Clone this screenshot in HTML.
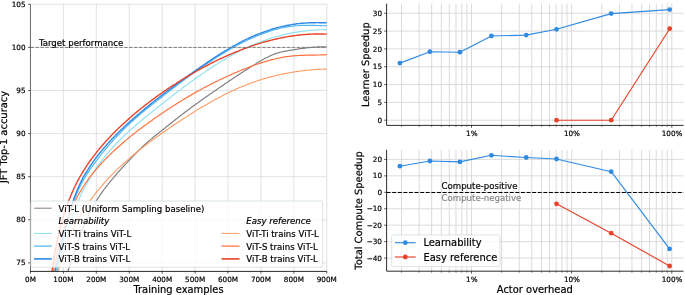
<!DOCTYPE html>
<html><head><meta charset="utf-8"><title>chart</title>
<style>html,body{margin:0;padding:0;background:#fff}text{stroke:#000;stroke-width:.2px}text.g{stroke:#8a8a8a}</style></head>
<body>
<div style="will-change:transform;width:685px;height:295px;overflow:hidden">
<svg width="685" height="295" viewBox="0 0 685 295" style="display:block" stroke-linejoin="round" font-family='"DejaVu Sans", "Liberation Sans", sans-serif'>
<rect width="685" height="295" fill="#fff"/>
<defs><clipPath id="cl"><rect x="30.5" y="2.3" width="296.90000000000003" height="268.9"/></clipPath></defs>
<path d="M30.50 4.3V271.2M63.42 4.3V271.2M96.34 4.3V271.2M129.26 4.3V271.2M162.18 4.3V271.2M195.10 4.3V271.2M228.02 4.3V271.2M260.94 4.3V271.2M293.86 4.3V271.2M326.78 4.3V271.2M30.5 262.90H326.8M30.5 219.80H326.8M30.5 176.70H326.8M30.5 133.60H326.8M30.5 90.50H326.8M30.5 47.40H326.8M30.5 4.30H326.8" stroke="#dadada" stroke-width="0.8" fill="none"/>
<g clip-path="url(#cl)" fill="none" stroke-linejoin="round">
<path d="M63.9 282.7L64.4 281.3L64.9 279.9L65.4 278.5L65.9 277.1L66.4 275.7L66.9 274.3L67.3 272.8L67.8 271.4L68.3 270.0L68.8 268.6L69.3 267.1L69.7 265.7L70.2 264.3L70.7 262.8L71.1 261.4L71.6 260.0L72.1 258.5L72.6 257.1L73.0 255.7L73.5 254.3L74.0 252.8L74.5 251.4L75.0 250.0L75.4 248.5L75.9 247.1L76.4 245.7L76.9 244.3L77.4 242.8L77.9 241.4L78.4 240.0L78.9 238.6L79.4 237.2L80.0 235.7L80.5 234.3L81.0 232.9L81.6 231.5L82.1 230.1L82.7 228.7L83.2 227.3L83.8 226.0L84.4 224.6L85.0 223.2L85.6 221.8L86.2 220.4L86.8 219.1L87.4 217.7L88.0 216.4L88.7 215.0L89.3 213.7L90.0 212.4L90.7 211.0L91.4 209.7L92.0 208.4L92.8 207.1L93.5 205.8L94.2 204.5L95.0 203.2L95.7 201.9L96.5 200.6L97.3 199.4L98.1 198.1L98.9 196.9L99.7 195.6L100.6 194.4L101.4 193.2L102.3 191.9L103.2 190.7L104.0 189.5L104.9 188.3L105.8 187.1L106.8 185.9L107.7 184.8L108.6 183.6L109.6 182.4L110.5 181.2L111.5 180.1L112.4 178.9L113.4 177.8L114.4 176.6L115.4 175.5L116.4 174.3L117.3 173.2L118.3 172.1L119.3 171.0L120.4 169.8L121.4 168.7L122.4 167.6L123.4 166.5L124.4 165.4L125.4 164.3L126.5 163.2L127.5 162.1L128.5 161.0L129.6 159.9L130.6 158.8L131.6 157.7L132.7 156.6L133.7 155.6L134.7 154.5L135.8 153.4L136.8 152.3L137.9 151.3L139.0 150.2L140.0 149.1L141.1 148.1L142.2 147.0L143.3 146.0L144.4 145.0L145.5 144.0L146.6 143.0L147.7 142.0L148.8 141.0L149.9 140.1L151.1 139.1L152.2 138.2L153.3 137.3L154.5 136.3L155.6 135.4L156.8 134.5L158.0 133.6L159.1 132.6L160.3 131.7L161.5 130.8L162.6 129.8L163.8 128.9L165.0 128.0L166.1 127.0L167.3 126.1L168.5 125.2L169.7 124.2L170.9 123.3L172.1 122.3L173.2 121.4L174.4 120.5L175.6 119.5L176.8 118.6L178.0 117.7L179.2 116.7L180.4 115.8L181.6 114.9L182.8 113.9L184.0 113.0L185.2 112.1L186.4 111.2L187.6 110.3L188.8 109.4L190.0 108.5L191.2 107.6L192.4 106.7L193.6 105.8L194.8 104.9L196.0 104.0L197.2 103.2L198.4 102.3L199.7 101.4L200.9 100.6L202.1 99.7L203.3 98.8L204.5 98.0L205.7 97.1L206.9 96.3L208.2 95.4L209.4 94.6L210.6 93.7L211.8 92.9L213.0 92.0L214.3 91.2L215.5 90.4L216.7 89.5L217.9 88.7L219.2 87.8L220.4 87.0L221.6 86.2L222.9 85.3L224.1 84.5L225.3 83.6L226.6 82.8L227.8 82.0L229.1 81.1L230.3 80.3L231.6 79.5L232.8 78.6L234.1 77.8L235.3 76.9L236.6 76.1L237.8 75.3L239.1 74.4L240.4 73.6L241.6 72.8L242.9 72.0L244.2 71.1L245.4 70.3L246.7 69.5L248.0 68.7L249.3 67.9L250.5 67.1L251.8 66.3L253.1 65.5L254.4 64.7L255.7 63.9L257.0 63.1L258.3 62.3L259.6 61.5L260.9 60.7L262.2 60.0L263.5 59.3L264.8 58.5L266.1 57.8L267.5 57.2L268.8 56.5L270.2 55.9L271.5 55.3L272.9 54.7L274.3 54.1L275.6 53.6L277.0 53.2L278.4 52.7L279.9 52.3L281.3 52.0L282.7 51.7L284.2 51.3L285.6 51.1L287.1 50.8L288.6 50.5L290.0 50.3L291.5 50.1L293.0 49.9L294.5 49.6L296.0 49.4L297.5 49.2L298.9 48.9L300.4 48.7L301.9 48.5L303.4 48.3L304.9 48.1L306.4 47.9L307.9 47.7L309.4 47.6L310.9 47.4L312.4 47.3L313.9 47.2L315.4 47.1L316.9 47.0L318.4 46.9L319.9 46.9L321.4 46.9L322.9 46.9L324.4 46.9L325.9 46.9L326.8 47.0" stroke="#808080" stroke-width="1.2"/>
<path d="M53.6 284.7L54.0 283.3L54.4 281.8L54.8 280.4L55.3 278.9L55.7 277.5L56.0 276.0L56.4 274.6L56.8 273.1L57.2 271.6L57.6 270.2L58.0 268.7L58.4 267.3L58.7 265.8L59.1 264.3L59.5 262.9L59.9 261.4L60.2 259.9L60.6 258.5L61.0 257.0L61.4 255.6L61.7 254.1L62.1 252.6L62.5 251.2L62.9 249.7L63.2 248.3L63.6 246.8L64.0 245.3L64.4 243.9L64.8 242.4L65.1 241.0L65.5 239.5L65.9 238.1L66.3 236.6L66.7 235.2L67.1 233.7L67.5 232.3L68.0 230.8L68.4 229.4L68.8 227.9L69.2 226.5L69.7 225.1L70.1 223.6L70.6 222.2L71.0 220.8L71.5 219.4L71.9 217.9L72.4 216.5L72.9 215.1L73.4 213.7L73.9 212.3L74.4 210.9L74.9 209.5L75.4 208.1L76.0 206.7L76.5 205.3L77.1 203.9L77.6 202.5L78.2 201.2L78.8 199.8L79.4 198.4L80.0 197.1L80.6 195.7L81.2 194.3L81.9 193.0L82.5 191.6L83.2 190.3L83.9 189.0L84.6 187.6L85.3 186.3L86.0 185.0L86.7 183.7L87.4 182.4L88.2 181.1L88.9 179.8L89.7 178.5L90.4 177.2L91.2 175.9L92.0 174.6L92.8 173.4L93.6 172.1L94.5 170.8L95.3 169.6L96.1 168.4L97.0 167.1L97.9 165.9L98.7 164.7L99.6 163.5L100.5 162.3L101.4 161.1L102.3 159.9L103.2 158.7L104.2 157.5L105.1 156.3L106.0 155.2L107.0 154.0L107.9 152.9L108.9 151.7L109.9 150.6L110.9 149.5L111.8 148.4L112.8 147.3L113.8 146.2L114.8 145.1L115.9 144.0L116.9 143.0L117.9 141.9L119.0 140.8L120.0 139.8L121.0 138.7L122.1 137.7L123.2 136.7L124.2 135.6L125.3 134.6L126.4 133.6L127.5 132.6L128.5 131.6L129.6 130.6L130.7 129.6L131.8 128.6L133.0 127.6L134.1 126.7L135.2 125.7L136.3 124.7L137.4 123.8L138.6 122.8L139.7 121.8L140.8 120.9L142.0 119.9L143.1 119.0L144.3 118.0L145.4 117.1L146.6 116.1L147.8 115.2L148.9 114.3L150.1 113.3L151.2 112.4L152.4 111.5L153.6 110.5L154.8 109.6L155.9 108.7L157.1 107.7L158.3 106.8L159.5 105.9L160.7 104.9L161.9 104.0L163.1 103.1L164.2 102.1L165.4 101.2L166.6 100.3L167.8 99.3L169.0 98.4L170.2 97.5L171.4 96.6L172.6 95.6L173.8 94.7L175.0 93.8L176.2 92.8L177.4 91.9L178.6 91.0L179.9 90.1L181.1 89.2L182.3 88.2L183.5 87.3L184.7 86.4L185.9 85.5L187.2 84.6L188.4 83.7L189.6 82.8L190.8 81.9L192.1 81.0L193.3 80.1L194.5 79.2L195.8 78.3L197.0 77.4L198.3 76.5L199.5 75.7L200.8 74.8L202.0 73.9L203.3 73.1L204.5 72.2L205.8 71.4L207.0 70.5L208.3 69.7L209.5 68.8L210.8 68.0L212.1 67.2L213.3 66.3L214.6 65.5L215.9 64.7L217.2 63.9L218.4 63.1L219.7 62.3L221.0 61.5L222.3 60.8L223.6 60.0L224.9 59.2L226.2 58.5L227.5 57.7L228.8 57.0L230.1 56.2L231.4 55.5L232.7 54.8L234.0 54.1L235.3 53.4L236.7 52.7L238.0 52.0L239.3 51.3L240.6 50.6L242.0 50.0L243.3 49.3L244.6 48.7L246.0 48.1L247.3 47.4L248.7 46.8L250.0 46.2L251.4 45.6L252.7 45.0L254.1 44.5L255.4 43.9L256.8 43.3L258.2 42.8L259.5 42.2L260.9 41.7L262.3 41.2L263.7 40.7L265.1 40.2L266.5 39.7L267.9 39.3L269.2 38.8L270.6 38.3L272.1 37.9L273.5 37.5L274.9 37.0L276.3 36.6L277.7 36.2L279.1 35.9L280.6 35.5L282.0 35.1L283.4 34.8L284.9 34.4L286.3 34.1L287.7 33.8L289.2 33.5L290.6 33.2L292.1 32.9L293.6 32.6L295.0 32.4L296.5 32.1L298.0 31.9L299.4 31.7L300.9 31.4L302.4 31.2L303.9 31.1L305.4 30.9L306.9 30.7L308.4 30.6L309.9 30.4L311.4 30.3L312.9 30.2L314.4 30.1L316.0 30.0L317.5 29.9L319.0 29.8L320.6 29.7L322.1 29.7L323.6 29.6L325.2 29.6L326.8 29.6L327.0 29.6" stroke="#8adfee" stroke-width="1.1"/>
<path d="M52.5 286.4L52.9 285.0L53.3 283.5L53.7 282.1L54.1 280.6L54.5 279.2L54.9 277.7L55.2 276.3L55.6 274.8L56.0 273.4L56.3 271.9L56.7 270.4L57.0 269.0L57.4 267.5L57.7 266.0L58.0 264.5L58.4 263.1L58.7 261.6L59.0 260.1L59.3 258.6L59.7 257.2L60.0 255.7L60.3 254.2L60.6 252.7L60.9 251.2L61.2 249.7L61.6 248.3L61.9 246.8L62.2 245.3L62.5 243.8L62.8 242.3L63.1 240.9L63.5 239.4L63.8 237.9L64.1 236.4L64.5 235.0L64.8 233.5L65.1 232.0L65.5 230.5L65.8 229.1L66.2 227.6L66.5 226.1L66.9 224.7L67.3 223.2L67.6 221.8L68.0 220.3L68.4 218.9L68.8 217.4L69.2 216.0L69.6 214.6L70.0 213.1L70.4 211.7L70.9 210.3L71.3 208.8L71.8 207.4L72.2 206.0L72.7 204.6L73.2 203.2L73.7 201.8L74.2 200.4L74.7 199.0L75.2 197.6L75.8 196.3L76.3 194.9L76.9 193.5L77.5 192.2L78.1 190.8L78.7 189.5L79.3 188.1L79.9 186.8L80.6 185.5L81.2 184.2L81.9 182.9L82.6 181.6L83.3 180.3L84.0 179.0L84.8 177.7L85.5 176.4L86.3 175.2L87.1 173.9L87.9 172.6L88.7 171.4L89.6 170.2L90.4 168.9L91.3 167.7L92.1 166.5L93.0 165.3L93.9 164.1L94.8 162.9L95.7 161.7L96.6 160.5L97.5 159.3L98.4 158.2L99.3 157.0L100.2 155.8L101.1 154.7L102.0 153.5L102.9 152.3L103.9 151.2L104.8 150.0L105.8 148.9L106.7 147.8L107.7 146.6L108.7 145.5L109.6 144.3L110.6 143.2L111.6 142.1L112.6 141.0L113.6 139.9L114.6 138.7L115.7 137.6L116.7 136.5L117.7 135.4L118.8 134.3L119.8 133.3L120.9 132.2L121.9 131.1L123.0 130.0L124.0 129.0L125.1 127.9L126.2 126.9L127.3 125.8L128.4 124.8L129.5 123.8L130.6 122.8L131.7 121.7L132.8 120.7L133.9 119.7L135.0 118.7L136.1 117.8L137.3 116.8L138.4 115.8L139.5 114.8L140.7 113.9L141.8 112.9L142.9 112.0L144.1 111.0L145.2 110.1L146.4 109.1L147.5 108.2L148.7 107.3L149.8 106.4L151.0 105.4L152.2 104.5L153.3 103.6L154.5 102.7L155.7 101.8L156.8 100.9L158.0 100.0L159.2 99.1L160.3 98.2L161.5 97.2L162.7 96.3L163.9 95.4L165.0 94.5L166.2 93.6L167.4 92.7L168.6 91.8L169.7 90.8L170.9 89.9L172.1 89.0L173.3 88.1L174.5 87.2L175.7 86.3L176.9 85.4L178.1 84.5L179.3 83.6L180.5 82.7L181.7 81.8L182.9 80.9L184.1 80.0L185.3 79.1L186.5 78.2L187.7 77.3L188.9 76.4L190.1 75.5L191.3 74.6L192.5 73.7L193.8 72.9L195.0 72.0L196.2 71.1L197.4 70.2L198.7 69.4L199.9 68.5L201.1 67.6L202.4 66.8L203.6 65.9L204.9 65.1L206.1 64.2L207.3 63.4L208.6 62.6L209.9 61.7L211.1 60.9L212.4 60.1L213.6 59.3L214.9 58.4L216.2 57.6L217.4 56.8L218.7 56.0L220.0 55.2L221.3 54.4L222.6 53.7L223.9 52.9L225.2 52.1L226.5 51.4L227.8 50.6L229.1 49.8L230.4 49.1L231.7 48.4L233.0 47.6L234.3 46.9L235.6 46.2L237.0 45.5L238.3 44.8L239.6 44.1L241.0 43.4L242.3 42.7L243.7 42.0L245.0 41.4L246.4 40.7L247.7 40.1L249.1 39.4L250.4 38.8L251.8 38.2L253.2 37.6L254.6 37.0L256.0 36.4L257.3 35.8L258.7 35.2L260.1 34.7L261.5 34.1L262.9 33.6L264.3 33.1L265.7 32.6L267.1 32.1L268.6 31.6L270.0 31.1L271.4 30.7L272.8 30.3L274.3 29.8L275.7 29.4L277.1 29.1L278.6 28.7L280.0 28.3L281.5 28.0L282.9 27.7L284.4 27.4L285.8 27.1L287.3 26.9L288.7 26.6L290.2 26.4L291.7 26.2L293.1 26.1L294.6 25.9L296.1 25.8L297.6 25.7L299.0 25.6L300.5 25.5L302.0 25.4L303.5 25.4L305.0 25.4L306.5 25.3L308.0 25.3L309.5 25.3L311.0 25.4L312.5 25.4L314.0 25.4L315.5 25.4L317.0 25.5L318.5 25.5L320.1 25.6L321.6 25.6L323.1 25.7L324.6 25.7L326.1 25.8L326.9 25.8" stroke="#4db8f0" stroke-width="1.15"/>
<path d="M51.0 287.7L51.4 286.2L51.7 284.8L52.1 283.3L52.5 281.9L52.8 280.4L53.2 279.0L53.5 277.5L53.9 276.1L54.2 274.6L54.6 273.1L54.9 271.7L55.3 270.2L55.6 268.8L56.0 267.3L56.3 265.8L56.6 264.3L57.0 262.9L57.3 261.4L57.6 259.9L58.0 258.5L58.3 257.0L58.6 255.5L59.0 254.0L59.3 252.6L59.6 251.1L60.0 249.6L60.3 248.1L60.6 246.7L61.0 245.2L61.3 243.7L61.7 242.2L62.0 240.8L62.3 239.3L62.7 237.8L63.0 236.4L63.4 234.9L63.7 233.4L64.1 232.0L64.5 230.5L64.8 229.0L65.2 227.6L65.6 226.1L66.0 224.7L66.4 223.2L66.7 221.8L67.1 220.3L67.5 218.9L67.9 217.4L68.3 216.0L68.8 214.6L69.2 213.1L69.6 211.7L70.0 210.3L70.5 208.9L70.9 207.4L71.4 206.0L71.8 204.6L72.3 203.2L72.8 201.8L73.3 200.4L73.8 199.0L74.3 197.6L74.8 196.2L75.3 194.9L75.8 193.5L76.4 192.1L76.9 190.8L77.5 189.4L78.1 188.0L78.7 186.7L79.3 185.4L79.9 184.0L80.5 182.7L81.2 181.4L81.8 180.1L82.5 178.7L83.2 177.4L84.0 176.1L84.7 174.8L85.4 173.6L86.2 172.3L87.0 171.0L87.8 169.8L88.6 168.5L89.4 167.3L90.2 166.0L91.1 164.8L91.9 163.6L92.8 162.3L93.6 161.1L94.5 159.9L95.4 158.7L96.3 157.5L97.2 156.3L98.1 155.2L99.0 154.0L100.0 152.8L100.9 151.7L101.8 150.5L102.8 149.4L103.8 148.2L104.7 147.1L105.7 146.0L106.7 144.8L107.7 143.7L108.7 142.6L109.7 141.5L110.7 140.4L111.7 139.3L112.8 138.2L113.8 137.2L114.9 136.1L115.9 135.0L117.0 133.9L118.0 132.9L119.1 131.8L120.2 130.8L121.2 129.7L122.3 128.7L123.4 127.7L124.5 126.6L125.6 125.6L126.7 124.6L127.8 123.6L128.9 122.6L130.0 121.6L131.1 120.6L132.3 119.6L133.4 118.6L134.5 117.6L135.7 116.6L136.8 115.6L137.9 114.6L139.1 113.7L140.2 112.7L141.4 111.7L142.5 110.8L143.7 109.8L144.8 108.9L146.0 107.9L147.1 107.0L148.3 106.0L149.4 105.1L150.6 104.1L151.7 103.2L152.9 102.3L154.1 101.3L155.2 100.4L156.4 99.5L157.6 98.6L158.8 97.7L159.9 96.8L161.1 95.8L162.3 94.9L163.5 94.0L164.6 93.1L165.8 92.2L167.0 91.3L168.2 90.4L169.4 89.5L170.6 88.6L171.8 87.7L173.0 86.9L174.2 86.0L175.4 85.1L176.6 84.2L177.8 83.3L179.0 82.4L180.2 81.5L181.4 80.7L182.6 79.8L183.8 78.9L185.0 78.0L186.3 77.2L187.5 76.3L188.7 75.4L189.9 74.5L191.2 73.7L192.4 72.8L193.6 71.9L194.9 71.0L196.1 70.2L197.3 69.3L198.6 68.4L199.8 67.6L201.1 66.7L202.3 65.8L203.6 65.0L204.8 64.1L206.1 63.3L207.3 62.4L208.6 61.5L209.9 60.7L211.1 59.8L212.4 59.0L213.7 58.2L215.0 57.3L216.2 56.5L217.5 55.7L218.8 54.8L220.1 54.0L221.4 53.2L222.7 52.4L224.0 51.6L225.3 50.8L226.6 50.0L227.9 49.3L229.2 48.5L230.5 47.7L231.8 47.0L233.1 46.2L234.4 45.5L235.7 44.8L237.1 44.0L238.4 43.3L239.7 42.6L241.1 41.9L242.4 41.2L243.7 40.6L245.1 39.9L246.4 39.2L247.8 38.6L249.1 38.0L250.5 37.4L251.8 36.7L253.2 36.1L254.6 35.6L255.9 35.0L257.3 34.4L258.7 33.9L260.1 33.3L261.4 32.8L262.8 32.3L264.2 31.8L265.6 31.3L267.0 30.8L268.4 30.3L269.8 29.9L271.2 29.4L272.6 29.0L274.0 28.6L275.4 28.2L276.9 27.8L278.3 27.4L279.7 27.1L281.1 26.7L282.6 26.4L284.0 26.1L285.5 25.8L286.9 25.5L288.4 25.2L289.8 24.9L291.3 24.7L292.7 24.4L294.2 24.2L295.7 24.0L297.1 23.8L298.6 23.6L300.1 23.5L301.6 23.3L303.1 23.2L304.6 23.1L306.0 23.0L307.5 22.9L309.0 22.8L310.6 22.8L312.1 22.7L313.6 22.7L315.1 22.7L316.6 22.6L318.2 22.6L319.7 22.7L321.2 22.7L322.8 22.7L324.3 22.8L325.9 22.9L326.9 22.9" stroke="#2f88e4" stroke-width="1.4"/>
<path d="M54.6 284.4L55.0 282.9L55.4 281.4L55.7 279.9L56.1 278.4L56.5 276.9L56.9 275.5L57.3 274.0L57.7 272.5L58.1 271.1L58.5 269.6L58.9 268.2L59.3 266.7L59.7 265.2L60.1 263.8L60.5 262.4L61.0 260.9L61.4 259.5L61.8 258.1L62.3 256.6L62.7 255.2L63.2 253.8L63.7 252.4L64.2 251.0L64.6 249.6L65.1 248.1L65.6 246.7L66.2 245.4L66.7 244.0L67.2 242.6L67.8 241.2L68.3 239.8L68.9 238.4L69.5 237.1L70.1 235.7L70.7 234.4L71.3 233.0L71.9 231.6L72.5 230.3L73.2 229.0L73.8 227.6L74.5 226.3L75.2 225.0L75.9 223.7L76.6 222.3L77.3 221.0L78.0 219.7L78.7 218.4L79.5 217.1L80.2 215.8L81.0 214.6L81.8 213.3L82.5 212.0L83.3 210.7L84.1 209.5L84.9 208.2L85.8 207.0L86.6 205.7L87.4 204.5L88.3 203.2L89.2 202.0L90.0 200.8L90.9 199.6L91.8 198.4L92.7 197.2L93.6 196.0L94.5 194.8L95.4 193.6L96.3 192.4L97.3 191.2L98.2 190.1L99.2 188.9L100.1 187.8L101.1 186.6L102.1 185.5L103.1 184.3L104.0 183.2L105.0 182.1L106.0 181.0L107.1 179.9L108.1 178.8L109.1 177.7L110.1 176.6L111.2 175.5L112.2 174.4L113.3 173.4L114.3 172.3L115.4 171.3L116.4 170.2L117.5 169.2L118.6 168.1L119.7 167.1L120.8 166.1L121.9 165.1L123.0 164.1L124.1 163.1L125.2 162.1L126.3 161.1L127.4 160.1L128.5 159.1L129.7 158.1L130.8 157.2L131.9 156.2L133.1 155.2L134.2 154.3L135.4 153.3L136.5 152.4L137.7 151.4L138.9 150.5L140.0 149.6L141.2 148.6L142.4 147.7L143.6 146.8L144.8 145.9L145.9 145.0L147.1 144.1L148.3 143.1L149.5 142.2L150.7 141.4L151.9 140.5L153.1 139.6L154.4 138.7L155.6 137.8L156.8 136.9L158.0 136.0L159.2 135.2L160.4 134.3L161.7 133.4L162.9 132.5L164.1 131.7L165.4 130.8L166.6 130.0L167.8 129.1L169.1 128.2L170.3 127.4L171.6 126.5L172.8 125.7L174.1 124.8L175.3 124.0L176.6 123.2L177.8 122.3L179.1 121.5L180.3 120.7L181.6 119.8L182.9 119.0L184.1 118.2L185.4 117.4L186.7 116.6L187.9 115.7L189.2 114.9L190.5 114.1L191.8 113.3L193.0 112.5L194.3 111.7L195.6 110.9L196.9 110.1L198.2 109.4L199.5 108.6L200.8 107.8L202.1 107.0L203.4 106.2L204.7 105.5L206.0 104.7L207.3 104.0L208.6 103.2L209.9 102.5L211.3 101.7L212.6 101.0L213.9 100.2L215.2 99.5L216.5 98.8L217.9 98.1L219.2 97.4L220.5 96.7L221.9 96.0L223.2 95.3L224.6 94.6L225.9 94.0L227.2 93.3L228.6 92.6L229.9 92.0L231.3 91.3L232.7 90.7L234.0 90.1L235.4 89.5L236.7 88.8L238.1 88.2L239.5 87.6L240.8 87.1L242.2 86.5L243.6 85.9L245.0 85.4L246.4 84.8L247.7 84.3L249.1 83.8L250.5 83.2L251.9 82.7L253.3 82.2L254.7 81.7L256.1 81.3L257.5 80.8L258.9 80.3L260.3 79.9L261.7 79.4L263.1 79.0L264.6 78.6L266.0 78.2L267.4 77.8L268.8 77.4L270.3 77.0L271.7 76.6L273.1 76.2L274.6 75.9L276.0 75.5L277.4 75.2L278.9 74.9L280.3 74.5L281.8 74.2L283.2 73.9L284.7 73.6L286.1 73.3L287.6 73.1L289.1 72.8L290.5 72.5L292.0 72.3L293.5 72.1L294.9 71.8L296.4 71.6L297.9 71.4L299.4 71.2L300.9 71.0L302.4 70.8L303.9 70.6L305.3 70.5L306.8 70.3L308.3 70.2L309.8 70.0L311.4 69.9L312.9 69.8L314.4 69.7L315.9 69.5L317.4 69.4L318.9 69.4L320.5 69.3L322.0 69.2L323.5 69.1L325.0 69.1L326.6 69.1L326.9 69.0" stroke="#ff9a62" stroke-width="1.1"/>
<path d="M49.6 291.3L49.9 289.9L50.2 288.4L50.5 286.9L50.7 285.5L51.0 284.0L51.3 282.5L51.6 281.0L51.9 279.6L52.2 278.1L52.4 276.6L52.7 275.1L53.0 273.7L53.3 272.2L53.6 270.7L53.9 269.2L54.2 267.8L54.5 266.3L54.8 264.8L55.1 263.3L55.4 261.9L55.8 260.4L56.1 258.9L56.4 257.4L56.7 256.0L57.1 254.5L57.4 253.0L57.8 251.6L58.1 250.1L58.5 248.6L58.8 247.2L59.2 245.7L59.6 244.3L60.0 242.8L60.4 241.4L60.7 239.9L61.1 238.5L61.6 237.0L62.0 235.6L62.4 234.1L62.8 232.7L63.3 231.3L63.7 229.9L64.2 228.4L64.6 227.0L65.1 225.6L65.6 224.2L66.1 222.8L66.6 221.4L67.1 220.0L67.6 218.6L68.1 217.2L68.7 215.8L69.2 214.4L69.8 213.0L70.3 211.6L70.9 210.3L71.5 208.9L72.1 207.5L72.7 206.2L73.3 204.8L74.0 203.5L74.6 202.1L75.3 200.8L75.9 199.5L76.6 198.2L77.3 196.8L78.0 195.5L78.7 194.2L79.5 192.9L80.2 191.6L81.0 190.3L81.8 189.1L82.5 187.8L83.3 186.5L84.2 185.3L85.0 184.0L85.8 182.8L86.7 181.5L87.5 180.3L88.4 179.1L89.3 177.9L90.2 176.7L91.2 175.5L92.1 174.3L93.0 173.1L94.0 171.9L95.0 170.8L95.9 169.6L96.9 168.5L97.9 167.3L98.9 166.2L99.9 165.1L100.9 164.0L101.9 162.9L103.0 161.8L104.0 160.7L105.0 159.6L106.1 158.5L107.1 157.5L108.2 156.4L109.2 155.4L110.3 154.3L111.4 153.3L112.5 152.2L113.5 151.2L114.6 150.2L115.7 149.2L116.8 148.2L117.9 147.2L119.0 146.2L120.2 145.2L121.3 144.2L122.4 143.3L123.5 142.3L124.7 141.3L125.8 140.4L127.0 139.4L128.1 138.5L129.3 137.5L130.4 136.6L131.6 135.6L132.7 134.7L133.9 133.8L135.1 132.9L136.3 131.9L137.4 131.0L138.6 130.1L139.8 129.2L141.0 128.3L142.2 127.4L143.4 126.5L144.6 125.6L145.8 124.7L147.0 123.9L148.2 123.0L149.4 122.1L150.6 121.2L151.9 120.4L153.1 119.5L154.3 118.6L155.5 117.8L156.7 116.9L158.0 116.1L159.2 115.2L160.4 114.4L161.7 113.5L162.9 112.7L164.2 111.8L165.4 111.0L166.7 110.2L167.9 109.3L169.2 108.5L170.4 107.7L171.7 106.9L172.9 106.1L174.2 105.3L175.5 104.5L176.7 103.7L178.0 102.9L179.3 102.1L180.6 101.3L181.9 100.5L183.1 99.7L184.4 98.9L185.7 98.2L187.0 97.4L188.3 96.6L189.6 95.9L190.9 95.1L192.2 94.4L193.5 93.6L194.8 92.9L196.1 92.1L197.4 91.4L198.7 90.7L200.1 90.0L201.4 89.2L202.7 88.5L204.0 87.8L205.3 87.1L206.7 86.4L208.0 85.7L209.3 85.0L210.7 84.3L212.0 83.6L213.4 83.0L214.7 82.3L216.1 81.6L217.4 81.0L218.8 80.3L220.1 79.6L221.5 79.0L222.8 78.4L224.2 77.7L225.6 77.1L226.9 76.5L228.3 75.8L229.7 75.2L231.0 74.6L232.4 74.0L233.8 73.4L235.2 72.8L236.6 72.2L237.9 71.6L239.3 71.0L240.7 70.5L242.1 69.9L243.5 69.3L244.9 68.8L246.3 68.2L247.7 67.7L249.1 67.1L250.5 66.6L251.9 66.1L253.4 65.5L254.8 65.0L256.2 64.5L257.6 64.0L259.0 63.6L260.4 63.1L261.9 62.6L263.3 62.2L264.7 61.7L266.2 61.3L267.6 60.9L269.0 60.5L270.5 60.1L271.9 59.7L273.4 59.3L274.8 59.0L276.3 58.6L277.7 58.3L279.2 58.0L280.6 57.7L282.1 57.4L283.5 57.2L285.0 56.9L286.5 56.7L287.9 56.5L289.4 56.3L290.9 56.1L292.4 55.9L293.8 55.8L295.3 55.7L296.8 55.6L298.3 55.5L299.8 55.4L301.2 55.4L302.7 55.3L304.2 55.3L305.7 55.2L307.2 55.2L308.7 55.2L310.2 55.2L311.7 55.1L313.2 55.1L314.7 55.1L316.2 55.1L317.8 55.0L319.3 55.0L320.8 54.9L322.3 54.9L323.8 54.8L325.3 54.7L326.9 54.6L326.9 54.6" stroke="#ff7340" stroke-width="1.2"/>
<path d="M48.3 297.3L48.5 295.8L48.7 294.3L48.9 292.8L49.2 291.3L49.4 289.9L49.6 288.4L49.8 286.9L50.0 285.4L50.2 283.9L50.4 282.4L50.6 280.9L50.8 279.4L51.0 277.9L51.3 276.4L51.5 274.9L51.7 273.5L51.9 272.0L52.1 270.5L52.3 269.0L52.6 267.5L52.8 266.0L53.0 264.5L53.3 263.0L53.5 261.5L53.7 260.0L54.0 258.5L54.2 257.0L54.5 255.5L54.7 254.0L55.0 252.5L55.3 251.1L55.5 249.6L55.8 248.1L56.1 246.6L56.4 245.1L56.7 243.6L57.0 242.1L57.3 240.7L57.6 239.2L57.9 237.7L58.2 236.2L58.5 234.8L58.9 233.3L59.2 231.8L59.6 230.4L59.9 228.9L60.3 227.4L60.7 226.0L61.0 224.5L61.4 223.1L61.8 221.6L62.2 220.2L62.7 218.8L63.1 217.3L63.5 215.9L64.0 214.5L64.4 213.0L64.9 211.6L65.3 210.2L65.8 208.8L66.3 207.4L66.8 205.9L67.3 204.5L67.8 203.1L68.3 201.8L68.9 200.4L69.4 199.0L70.0 197.6L70.5 196.2L71.1 194.9L71.7 193.5L72.3 192.1L72.9 190.8L73.5 189.4L74.1 188.1L74.8 186.7L75.4 185.4L76.1 184.1L76.7 182.8L77.4 181.4L78.1 180.1L78.8 178.8L79.5 177.5L80.3 176.2L81.0 175.0L81.8 173.7L82.5 172.4L83.3 171.1L84.1 169.9L84.9 168.6L85.7 167.4L86.5 166.1L87.3 164.9L88.1 163.7L89.0 162.4L89.8 161.2L90.7 160.0L91.6 158.8L92.5 157.6L93.4 156.4L94.3 155.2L95.2 154.1L96.1 152.9L97.0 151.7L97.9 150.6L98.9 149.4L99.8 148.3L100.8 147.1L101.8 146.0L102.8 144.8L103.7 143.7L104.7 142.6L105.7 141.5L106.7 140.4L107.7 139.3L108.8 138.2L109.8 137.1L110.8 136.0L111.9 134.9L112.9 133.8L114.0 132.8L115.0 131.7L116.1 130.6L117.2 129.6L118.2 128.5L119.3 127.5L120.4 126.5L121.5 125.4L122.6 124.4L123.7 123.4L124.8 122.4L125.9 121.4L127.0 120.4L128.1 119.4L129.3 118.4L130.4 117.4L131.5 116.4L132.7 115.4L133.8 114.5L134.9 113.5L136.1 112.5L137.2 111.6L138.4 110.6L139.6 109.7L140.7 108.7L141.9 107.8L143.1 106.9L144.2 105.9L145.4 105.0L146.6 104.1L147.8 103.2L149.0 102.3L150.2 101.4L151.4 100.5L152.6 99.6L153.8 98.7L155.0 97.8L156.2 96.9L157.4 96.1L158.6 95.2L159.8 94.3L161.0 93.5L162.3 92.6L163.5 91.7L164.7 90.9L166.0 90.1L167.2 89.2L168.5 88.4L169.7 87.5L171.0 86.7L172.2 85.9L173.5 85.1L174.7 84.3L176.0 83.5L177.3 82.6L178.5 81.8L179.8 81.0L181.1 80.2L182.4 79.5L183.7 78.7L184.9 77.9L186.2 77.1L187.5 76.3L188.8 75.6L190.1 74.8L191.4 74.0L192.7 73.3L194.0 72.5L195.3 71.8L196.7 71.0L198.0 70.3L199.3 69.6L200.6 68.9L201.9 68.1L203.3 67.4L204.6 66.7L205.9 66.0L207.3 65.3L208.6 64.6L210.0 63.9L211.3 63.2L212.7 62.5L214.0 61.9L215.4 61.2L216.7 60.5L218.1 59.9L219.4 59.2L220.8 58.6L222.2 58.0L223.5 57.3L224.9 56.7L226.3 56.1L227.7 55.5L229.0 54.9L230.4 54.3L231.8 53.7L233.2 53.1L234.6 52.5L236.0 51.9L237.4 51.3L238.8 50.8L240.2 50.2L241.6 49.7L243.0 49.1L244.4 48.6L245.8 48.1L247.2 47.6L248.6 47.1L250.0 46.6L251.4 46.1L252.9 45.6L254.3 45.1L255.7 44.6L257.1 44.2L258.6 43.7L260.0 43.3L261.4 42.9L262.9 42.4L264.3 42.0L265.7 41.6L267.2 41.2L268.6 40.8L270.1 40.5L271.5 40.1L273.0 39.7L274.4 39.4L275.9 39.0L277.3 38.7L278.8 38.4L280.2 38.1L281.7 37.8L283.2 37.5L284.6 37.2L286.1 36.9L287.5 36.7L289.0 36.4L290.5 36.2L292.0 36.0L293.4 35.8L294.9 35.6L296.4 35.4L297.9 35.2L299.3 35.0L300.8 34.9L302.3 34.7L303.8 34.6L305.3 34.5L306.8 34.4L308.3 34.3L309.8 34.2L311.2 34.1L312.7 34.1L314.2 34.0L315.7 34.0L317.2 34.0L318.7 34.0L320.2 34.0L321.7 34.0L323.2 34.0L324.7 34.1L326.2 34.1L326.8 34.2" stroke="#ea4228" stroke-width="1.4"/>
</g>
<path d="M30.5 47.45H326.8" stroke="#7c7c7c" stroke-width="0.95" stroke-dasharray="3.5 1.43" fill="none"/>
<text x="38.9" y="45.6" font-size="8.6" fill="#000">Target performance</text>
<path d="M30.45 4.3V271.8" stroke="#4a4a4a" stroke-width="0.8" fill="none"/>
<path d="M30.1 271.4H326.8" stroke="#151515" stroke-width="0.9" fill="none"/>
<path d="M30.50 271.2v2.4M63.42 271.2v2.4M96.34 271.2v2.4M129.26 271.2v2.4M162.18 271.2v2.4M195.10 271.2v2.4M228.02 271.2v2.4M260.94 271.2v2.4M293.86 271.2v2.4M326.78 271.2v2.4M30.5 262.90h-2.4M30.5 219.80h-2.4M30.5 176.70h-2.4M30.5 133.60h-2.4M30.5 90.50h-2.4M30.5 47.40h-2.4M30.5 4.30h-2.4" stroke="#151515" stroke-width="0.7" fill="none"/>
<g font-size="7.25" fill="#000">
<text x="30.50" y="281.9" text-anchor="middle">0M</text>
<text x="63.42" y="281.9" text-anchor="middle">100M</text>
<text x="96.34" y="281.9" text-anchor="middle">200M</text>
<text x="129.26" y="281.9" text-anchor="middle">300M</text>
<text x="162.18" y="281.9" text-anchor="middle">400M</text>
<text x="195.10" y="281.9" text-anchor="middle">500M</text>
<text x="228.02" y="281.9" text-anchor="middle">600M</text>
<text x="260.94" y="281.9" text-anchor="middle">700M</text>
<text x="293.86" y="281.9" text-anchor="middle">800M</text>
<text x="326.78" y="281.9" text-anchor="middle">900M</text>
<text x="25.6" y="265.20" text-anchor="end">75</text>
<text x="25.6" y="222.10" text-anchor="end">80</text>
<text x="25.6" y="179.00" text-anchor="end">85</text>
<text x="25.6" y="135.90" text-anchor="end">90</text>
<text x="25.6" y="92.80" text-anchor="end">95</text>
<text x="25.6" y="49.70" text-anchor="end">100</text>
<text x="25.6" y="6.60" text-anchor="end">105</text>
</g>
<text x="178.5" y="292.6" font-size="9.93" text-anchor="middle" fill="#000">Training examples</text>
<text transform="translate(7.2 137.0) rotate(-90)" text-rendering="geometricPrecision" font-size="9.93" text-anchor="middle" fill="#000">JFT Top-1 accuracy</text>
<rect x="30.9" y="201.0" width="291.8" height="66.2" rx="1.6" fill="#fff" fill-opacity="0.8" stroke="#cfdedd" stroke-width="0.8"/>
<g fill="none">
<path d="M34.2 208.2H51.7" stroke="#808080" stroke-width="1.0"/>
<path d="M34.0 233.4H51.8" stroke="#8adfee" stroke-width="1.0"/>
<path d="M34.0 246.1H51.8" stroke="#4db8f0" stroke-width="1.25"/>
<path d="M34.0 258.9H51.8" stroke="#2f88e4" stroke-width="1.6"/>
<path d="M221.5 233.4H239.5" stroke="#ff9a62" stroke-width="1.0"/>
<path d="M221.5 246.1H239.5" stroke="#ff7340" stroke-width="1.25"/>
<path d="M221.5 258.9H239.5" stroke="#ea4228" stroke-width="1.6"/>
</g>
<g font-size="8.6" fill="#000">
<text x="58.6" y="212">ViT-L (Uniform Sampling baseline)</text>
<text x="58.6" y="224" font-style="italic">Learnability</text>
<text x="246.3" y="224" font-style="italic">Easy reference</text>
<text x="58.6" y="237">ViT-Ti trains ViT-L</text>
<text x="246.3" y="237">ViT-Ti trains ViT-L</text>
<text x="58.6" y="250">ViT-S trains ViT-L</text>
<text x="246.3" y="250">ViT-S trains ViT-L</text>
<text x="58.6" y="262">ViT-B trains ViT-L</text>
<text x="246.3" y="262">ViT-B trains ViT-L</text>
</g>
<path d="M401.50 3.6V125.4M419.13 3.6V125.4M431.65 3.6V125.4M441.35 3.6V125.4M449.28 3.6V125.4M455.99 3.6V125.4M461.79 3.6V125.4M466.92 3.6V125.4M471.50 3.6V125.4M501.65 3.6V125.4M519.28 3.6V125.4M531.80 3.6V125.4M541.50 3.6V125.4M549.43 3.6V125.4M556.14 3.6V125.4M561.94 3.6V125.4M567.07 3.6V125.4M571.65 3.6V125.4M601.80 3.6V125.4M619.43 3.6V125.4M631.95 3.6V125.4M641.65 3.6V125.4M649.58 3.6V125.4M656.29 3.6V125.4M662.09 3.6V125.4M667.22 3.6V125.4M671.80 3.6V125.4M386.6 120.20H683.6M386.6 102.38H683.6M386.6 84.55H683.6M386.6 66.72H683.6M386.6 48.90H683.6M386.6 31.08H683.6M386.6 13.25H683.6" stroke="#d7d7d7" stroke-width="0.9" fill="none"/>
<path d="M399.9 63.1L429.9 51.7L459.9 52.2L491.4 36.0L526.2 35.1L556.5 29.3L611.2 13.6L669.7 9.6" stroke="#2e8ae3" stroke-width="1.15" fill="none" stroke-linejoin="round"/>
<circle cx="399.9" cy="63.1" r="2.4" fill="#2e8ae3"/>
<circle cx="429.9" cy="51.7" r="2.4" fill="#2e8ae3"/>
<circle cx="459.9" cy="52.2" r="2.4" fill="#2e8ae3"/>
<circle cx="491.4" cy="36.0" r="2.4" fill="#2e8ae3"/>
<circle cx="526.2" cy="35.1" r="2.4" fill="#2e8ae3"/>
<circle cx="556.5" cy="29.3" r="2.4" fill="#2e8ae3"/>
<circle cx="611.2" cy="13.6" r="2.4" fill="#2e8ae3"/>
<circle cx="669.7" cy="9.6" r="2.4" fill="#2e8ae3"/>
<path d="M556.5 120.2L611.2 120.2L669.7 28.7" stroke="#e8432a" stroke-width="1.15" fill="none" stroke-linejoin="round"/>
<circle cx="556.5" cy="120.2" r="2.4" fill="#e8432a"/>
<circle cx="611.2" cy="120.2" r="2.4" fill="#e8432a"/>
<circle cx="669.7" cy="28.7" r="2.4" fill="#e8432a"/>
<path d="M386.6 3.6V125.4H683.6" stroke="#151515" stroke-width="0.9" fill="none"/>
<path d="M471.50 125.4v2.4M571.65 125.4v2.4M671.80 125.4v2.4M386.6 120.20h-2.4M386.6 102.38h-2.4M386.6 84.55h-2.4M386.6 66.72h-2.4M386.6 48.90h-2.4M386.6 31.08h-2.4M386.6 13.25h-2.4" stroke="#151515" stroke-width="0.7" fill="none"/>
<path d="M401.50 125.4v1.5M419.13 125.4v1.5M431.65 125.4v1.5M441.35 125.4v1.5M449.28 125.4v1.5M455.99 125.4v1.5M461.79 125.4v1.5M466.92 125.4v1.5M501.65 125.4v1.5M519.28 125.4v1.5M531.80 125.4v1.5M541.50 125.4v1.5M549.43 125.4v1.5M556.14 125.4v1.5M561.94 125.4v1.5M567.07 125.4v1.5M601.80 125.4v1.5M619.43 125.4v1.5M631.95 125.4v1.5M641.65 125.4v1.5M649.58 125.4v1.5M656.29 125.4v1.5M662.09 125.4v1.5M667.22 125.4v1.5" stroke="#151515" stroke-width="0.55" fill="none"/>
<g font-size="7.25" fill="#000">
<text x="382.0" y="122.80" text-anchor="end">0</text>
<text x="382.0" y="104.97" text-anchor="end">5</text>
<text x="382.0" y="87.15" text-anchor="end">10</text>
<text x="382.0" y="69.32" text-anchor="end">15</text>
<text x="382.0" y="51.50" text-anchor="end">20</text>
<text x="382.0" y="33.68" text-anchor="end">25</text>
<text x="382.0" y="15.85" text-anchor="end">30</text>
<text x="471.80" y="136.00" text-anchor="middle">1%</text>
<text x="571.95" y="136.00" text-anchor="middle">10%</text>
<text x="672.10" y="136.00" text-anchor="middle">100%</text>
</g>
<text transform="translate(369 64.7) rotate(-90)" text-rendering="geometricPrecision" font-size="9.93" text-anchor="middle" fill="#000">Learner Speedup</text>
<path d="M401.50 149.8V271.2M419.13 149.8V271.2M431.65 149.8V271.2M441.35 149.8V271.2M449.28 149.8V271.2M455.99 149.8V271.2M461.79 149.8V271.2M466.92 149.8V271.2M471.50 149.8V271.2M501.65 149.8V271.2M519.28 149.8V271.2M531.80 149.8V271.2M541.50 149.8V271.2M549.43 149.8V271.2M556.14 149.8V271.2M561.94 149.8V271.2M567.07 149.8V271.2M571.65 149.8V271.2M601.80 149.8V271.2M619.43 149.8V271.2M631.95 149.8V271.2M641.65 149.8V271.2M649.58 149.8V271.2M656.29 149.8V271.2M662.09 149.8V271.2M667.22 149.8V271.2M671.80 149.8V271.2M386.6 258.10H683.6M386.6 241.65H683.6M386.6 225.20H683.6M386.6 208.75H683.6M386.6 192.30H683.6M386.6 175.85H683.6M386.6 159.40H683.6" stroke="#d7d7d7" stroke-width="0.9" fill="none"/>
<path d="M399.9 166.2L429.9 161.0L459.9 161.9L491.4 155.3L526.2 157.5L556.5 159.0L611.2 171.7L669.6 248.9" stroke="#2e8ae3" stroke-width="1.15" fill="none" stroke-linejoin="round"/>
<circle cx="399.9" cy="166.2" r="2.4" fill="#2e8ae3"/>
<circle cx="429.9" cy="161.0" r="2.4" fill="#2e8ae3"/>
<circle cx="459.9" cy="161.9" r="2.4" fill="#2e8ae3"/>
<circle cx="491.4" cy="155.3" r="2.4" fill="#2e8ae3"/>
<circle cx="526.2" cy="157.5" r="2.4" fill="#2e8ae3"/>
<circle cx="556.5" cy="159.0" r="2.4" fill="#2e8ae3"/>
<circle cx="611.2" cy="171.7" r="2.4" fill="#2e8ae3"/>
<circle cx="669.6" cy="248.9" r="2.4" fill="#2e8ae3"/>
<path d="M556.5 203.8L611.2 233.2L669.6 266.0" stroke="#e8432a" stroke-width="1.15" fill="none" stroke-linejoin="round"/>
<circle cx="556.5" cy="203.8" r="2.4" fill="#e8432a"/>
<circle cx="611.2" cy="233.2" r="2.4" fill="#e8432a"/>
<circle cx="669.6" cy="266.0" r="2.4" fill="#e8432a"/>
<path d="M386.6 192.5H683.6" stroke="#000" stroke-width="1.05" stroke-dasharray="3.9 1.7" fill="none"/>
<text x="441.5" y="188.8" font-size="8.6" fill="#111">Compute-positive</text>
<text x="441.5" y="200.8" font-size="8.6" fill="#8a8a8a" class="g">Compute-negative</text>
<path d="M386.6 149.8V271.2H683.6" stroke="#151515" stroke-width="0.9" fill="none"/>
<path d="M471.50 271.2v2.4M571.65 271.2v2.4M671.80 271.2v2.4M386.6 258.10h-2.4M386.6 241.65h-2.4M386.6 225.20h-2.4M386.6 208.75h-2.4M386.6 192.30h-2.4M386.6 175.85h-2.4M386.6 159.40h-2.4" stroke="#151515" stroke-width="0.7" fill="none"/>
<path d="M401.50 271.2v1.5M419.13 271.2v1.5M431.65 271.2v1.5M441.35 271.2v1.5M449.28 271.2v1.5M455.99 271.2v1.5M461.79 271.2v1.5M466.92 271.2v1.5M501.65 271.2v1.5M519.28 271.2v1.5M531.80 271.2v1.5M541.50 271.2v1.5M549.43 271.2v1.5M556.14 271.2v1.5M561.94 271.2v1.5M567.07 271.2v1.5M601.80 271.2v1.5M619.43 271.2v1.5M631.95 271.2v1.5M641.65 271.2v1.5M649.58 271.2v1.5M656.29 271.2v1.5M662.09 271.2v1.5M667.22 271.2v1.5" stroke="#151515" stroke-width="0.55" fill="none"/>
<g font-size="7.25" fill="#000">
<text x="382.0" y="260.70" text-anchor="end">−40</text>
<text x="382.0" y="244.25" text-anchor="end">−30</text>
<text x="382.0" y="227.80" text-anchor="end">−20</text>
<text x="382.0" y="211.35" text-anchor="end">−10</text>
<text x="382.0" y="194.90" text-anchor="end">0</text>
<text x="382.0" y="178.45" text-anchor="end">10</text>
<text x="382.0" y="162.00" text-anchor="end">20</text>
<text x="471.80" y="281.80" text-anchor="middle">1%</text>
<text x="571.95" y="281.80" text-anchor="middle">10%</text>
<text x="672.10" y="281.80" text-anchor="middle">100%</text>
</g>
<text transform="translate(362 210.5) rotate(-90)" text-rendering="geometricPrecision" font-size="9.93" text-anchor="middle" fill="#000">Total Compute Speedup</text>
<text x="534.8" y="292.7" font-size="9.93" text-anchor="middle" fill="#000">Actor overhead</text>
<rect x="391.7" y="234.9" width="108.3" height="31.8" rx="1.8" fill="#fff" fill-opacity="0.8" stroke="#cfdedd" stroke-width="0.8"/>
<path d="M394.9 242.7H415.7" stroke="#2e8ae3" stroke-width="1.15"/>
<circle cx="405.3" cy="242.7" r="2.4" fill="#2e8ae3"/>
<text x="423.4" y="246.2" font-size="9.93" fill="#000">Learnability</text>
<path d="M394.9 257.0H415.7" stroke="#e8432a" stroke-width="1.15"/>
<circle cx="405.3" cy="257.0" r="2.4" fill="#e8432a"/>
<text x="423.4" y="260.5" font-size="9.93" fill="#000">Easy reference</text>
</svg>
</div>
</body></html>
